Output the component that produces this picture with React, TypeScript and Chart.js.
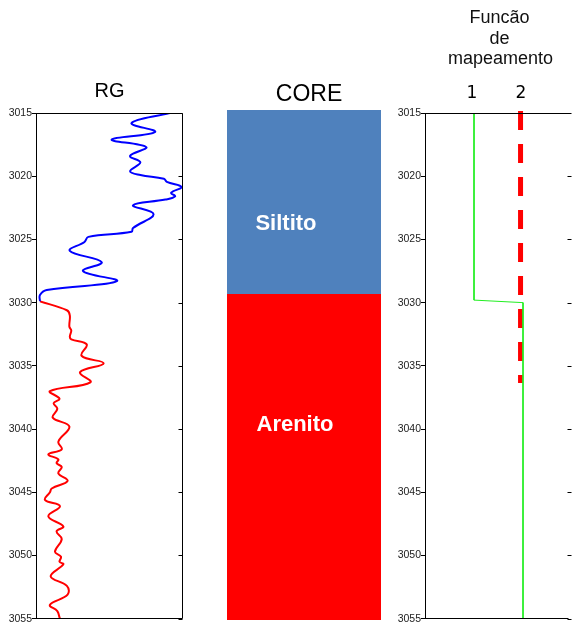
import React, { useEffect, useRef } from "react";
import { Chart, registerables } from "chart.js";

Chart.register(...registerables);

// ---------- data ----------
const DEPTH_MIN = 3015;
const DEPTH_MAX = 3055;
const DEPTH_STEP = 5;

// RG log (arbitrary API units 0..100), upper part (Siltito) in blue
const rgBlueDepth = [3015.0, 3015.8, 3016.5, 3017.1, 3017.7, 3018.4, 3018.9, 3019.6, 3019.9, 3020.2, 3020.45, 3020.85, 3021.3, 3021.6, 3021.85, 3022.3, 3023.0, 3024.1, 3024.4, 3024.8, 3025.2, 3025.9, 3026.8, 3027.5, 3028.3, 3029.0, 3029.4, 3029.9];
const rgBlueValue = [91, 65, 81, 51.5, 75, 64, 71, 64, 71, 87, 89, 99, 92, 94.6, 88, 66, 80, 66, 65, 35.6, 33, 23, 44.7, 32, 55, 7.3, 2.7, 2.7];

// RG log, lower part (Arenito) in red
const rgRedDepth = [3029.9, 3030.6, 3031.0, 3031.9, 3032.2, 3032.7, 3032.9, 3033.3, 3034.2, 3034.8, 3035.5, 3036.3, 3037.0, 3037.6, 3037.95, 3038.4, 3039.1, 3039.8, 3041.0, 3041.6, 3042.0, 3042.4, 3042.7, 3043.0, 3043.5, 3044.1, 3044.7, 3045.0, 3045.6, 3046.1, 3046.9, 3047.7, 3048.1, 3048.7, 3049.7, 3050.1, 3050.5, 3050.7, 3051.65, 3052.4, 3053.1, 3053.9, 3054.4, 3054.9, 3055.0];
const rgRedValue = [2.7, 21, 23, 22.7, 24, 23, 24, 34.5, 31, 46, 30, 37, 9.5, 16, 12, 14.5, 11.4, 22.7, 15.2, 17.5, 8.4, 15.2, 14, 17.5, 15.2, 21.5, 10.7, 9.5, 6.1, 16.3, 8.4, 18.6, 14, 17.5, 12.9, 17, 16, 18.6, 10, 21, 21.5, 9.5, 14.5, 16, 16.3];

// Core description
const coreLayers = ["Siltito", "Arenito"];
const coreTop = [3015, 3029.4];
const coreBase = [3029.4, 3055];
const coreColors = ["#4F81BD", "#FF0000"];

// Mapping functions
const func1Depth = [3015, 3029.8, 3030, 3055];
const func1Value = [1, 1, 2, 2];
const func2Depth = [3014.85, 3036.35];
const func2Value = [1.95, 1.95];
const funcTickLabels = ["1", "2"];
const funcTickValues = [1, 2];

const FONT = "'Liberation Sans', Arial, sans-serif";

// ---------- plugins ----------
type TextItem = { text: string; dx: number; y: number; font: string; color: string; ref?: "center" | "xvalue"; xv?: number };

function makeTextPlugin(items: TextItem[]) {
  return {
    id: "texts",
    afterDraw(chart: any) {
      const { ctx, chartArea } = chart;
      ctx.save();
      ctx.textAlign = "center";
      ctx.textBaseline = "alphabetic";
      for (const it of items) {
        ctx.font = it.font;
        ctx.fillStyle = it.color;
        let x = (chartArea.left + chartArea.right) / 2 + it.dx;
        if (it.ref === "xvalue" && it.xv !== undefined) {
          x = chart.scales.x.getPixelForValue(it.xv) + it.dx;
        }
        ctx.fillText(it.text, x, it.y);
      }
      ctx.restore();
    },
  };
}

function makeFramePlugin(drawRightBorder: boolean) {
  return {
    id: "frame",
    afterDraw(chart: any) {
      const { ctx, chartArea: a } = chart;
      const ys = chart.scales.y;
      const l = Math.round(a.left) + 0.5;
      const r = Math.round(a.right) - 0.5;
      const t = Math.round(a.top) + 0.5;
      const b = Math.round(a.bottom) - 0.5;
      ctx.save();
      ctx.strokeStyle = "#000";
      ctx.lineWidth = 1;
      ctx.beginPath();
      ctx.moveTo(l, t);
      ctx.lineTo(drawRightBorder ? r : r - 3, t);
      if (drawRightBorder) {
        ctx.lineTo(r, b);
        ctx.moveTo(r, b);
      } else {
        ctx.moveTo(r - 3, b);
      }
      ctx.lineTo(l, b);
      for (const tk of ys.ticks) {
        const y = Math.round(ys.getPixelForValue(tk.value)) + 0.5;
        ctx.moveTo(r - 4, y);
        ctx.lineTo(r, y);
      }
      ctx.stroke();
      ctx.restore();
    },
  };
}

function depthAxis(width: number) {
  return {
    type: "linear",
    min: DEPTH_MIN,
    max: DEPTH_MAX,
    reverse: true,
    afterFit: (s: any) => {
      s.width = width;
    },
    ticks: {
      stepSize: DEPTH_STEP,
      font: { size: 10.5, family: FONT },
      color: "#222",
      padding: 0,
      callback: (v: number) => String(v),
    },
    grid: { drawOnChartArea: false, drawTicks: true, tickLength: 4, color: "#000" },
    border: { display: true, color: "#000", width: 1 },
  };
}

const toPoints = (xs: number[], ys: number[]) => ys.map((y, i) => ({ x: xs[i], y }));

export default function App() {
  const rgRef = useRef<HTMLCanvasElement>(null);
  const coreRef = useRef<HTMLCanvasElement>(null);
  const mapRef = useRef<HTMLCanvasElement>(null);

  useEffect(() => {
    const charts: Chart[] = [];

    // RG panel
    charts.push(
      new Chart(rgRef.current as HTMLCanvasElement, {
        type: "scatter",
        data: {
          datasets: [
            {
              data: toPoints(rgBlueValue, rgBlueDepth),
              borderColor: "#0000FF",
              borderWidth: 2,
              showLine: true,
              pointRadius: 0,
              tension: 0.4,
              fill: false,
            },
            {
              data: toPoints(rgRedValue, rgRedDepth),
              borderColor: "#FF0000",
              borderWidth: 2,
              showLine: true,
              pointRadius: 0,
              tension: 0.4,
              fill: false,
            },
          ],
        },
        options: {
          animation: false,
          responsive: false,
          devicePixelRatio: 1,
          layout: { padding: { top: 113, bottom: 6, left: 0, right: 17 } },
          plugins: { legend: { display: false }, tooltip: { enabled: false } },
          scales: {
            x: { type: "linear", min: 0, max: 100, display: false },
            y: depthAxis(36) as any,
          },
        },
        plugins: [
          makeFramePlugin(true),
          makeTextPlugin([{ text: "RG", dx: 0, y: 97, font: `20px ${FONT}`, color: "#000" }]),
        ],
      } as any)
    );

    // CORE panel
    charts.push(
      new Chart(coreRef.current as HTMLCanvasElement, {
        type: "bar",
        data: {
          labels: ["CORE"],
          datasets: coreLayers.map((name, i) => ({
            label: name,
            data: [[coreTop[i], coreBase[i]]],
            backgroundColor: coreColors[i],
            borderWidth: 0,
            grouped: false,
            barPercentage: 1,
            categoryPercentage: 1,
          })),
        },
        options: {
          animation: false,
          responsive: false,
          devicePixelRatio: 1,
          layout: { padding: { top: 110, bottom: 5, left: 27, right: 19 } },
          plugins: { legend: { display: false }, tooltip: { enabled: false } },
          scales: {
            x: { display: false },
            y: { type: "linear", min: DEPTH_MIN, max: DEPTH_MAX, reverse: true, display: false },
          },
        },
        plugins: [
          makeTextPlugin([
            { text: "CORE", dx: 5, y: 101, font: `23px ${FONT}`, color: "#000" },
            { text: coreLayers[0], dx: -18, y: 230, font: `bold 22px ${FONT}`, color: "#FFFFFF" },
            { text: coreLayers[1], dx: -9, y: 431, font: `bold 22px ${FONT}`, color: "#FFFFFF" },
          ]),
        ],
      } as any)
    );

    // Mapping function panel
    charts.push(
      new Chart(mapRef.current as HTMLCanvasElement, {
        type: "scatter",
        data: {
          datasets: [
            {
              data: toPoints(func1Value, func1Depth),
              borderColor: "#22EE22",
              borderWidth: 1,
              showLine: true,
              pointRadius: 0,
              tension: 0,
              fill: false,
              order: 0,
            },
            {
              data: toPoints(func2Value, func2Depth),
              borderColor: "#FF0000",
              borderWidth: 5,
              borderDash: [19, 14],
              borderCapStyle: "butt",
              showLine: true,
              pointRadius: 0,
              tension: 0,
              fill: false,
              clip: false,
              order: 1,
            },
          ],
        },
        options: {
          animation: false,
          responsive: false,
          devicePixelRatio: 1,
          layout: { padding: { top: 113, bottom: 6, left: 0, right: 0 } },
          plugins: { legend: { display: false }, tooltip: { enabled: false } },
          scales: {
            x: { type: "linear", min: 0, max: 3, display: false },
            y: depthAxis(35) as any,
          },
        },
        plugins: [
          makeFramePlugin(false),
          makeTextPlugin([
            { text: "Funcão", dx: 1, y: 23, font: `18px ${FONT}`, color: "#111" },
            { text: "de", dx: 1, y: 43.5, font: `18px ${FONT}`, color: "#111" },
            { text: "mapeamento", dx: 2, y: 64, font: `18px ${FONT}`, color: "#111" },
            ...funcTickLabels.map((t, i) => ({
              text: t,
              dx: -2,
              y: 98,
              font: `17px 'DejaVu Sans', ${FONT}`,
              color: "#000",
              ref: "xvalue" as const,
              xv: funcTickValues[i],
            })),
          ]),
        ],
      } as any)
    );

    return () => {
      charts.forEach((c) => c.destroy());
    };
  }, []);

  return (
    <div style={{ position: "fixed", left: 0, top: 0, width: 572, height: 625, background: "#fff", overflow: "hidden" }}>
      <canvas ref={rgRef} width={200} height={625} style={{ position: "absolute", left: 0, top: 0 }} />
      <canvas ref={coreRef} width={200} height={625} style={{ position: "absolute", left: 200, top: 0 }} />
      <canvas ref={mapRef} width={182} height={625} style={{ position: "absolute", left: 390, top: 0 }} />
    </div>
  );
}
